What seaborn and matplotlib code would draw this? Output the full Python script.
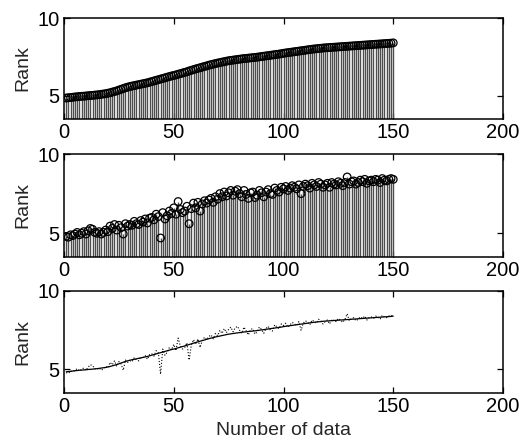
import numpy as np
import pandas as pd
import matplotlib
matplotlib.use("Agg")
import matplotlib.pyplot as plt
import seaborn as sns

x_index = list(range(1, 151))

smooth_rank = [
    4.85, 4.87, 4.88, 4.90, 4.92, 4.93, 4.95, 4.96, 4.97, 4.98,
    5.00, 5.01, 5.02, 5.04, 5.05, 5.07, 5.09, 5.11, 5.13, 5.16,
    5.19, 5.23, 5.27, 5.31, 5.36, 5.41, 5.46, 5.51, 5.55, 5.59,
    5.62, 5.65, 5.68, 5.71, 5.74, 5.77, 5.80, 5.83, 5.87, 5.91,
    5.95, 5.99, 6.03, 6.07, 6.11, 6.15, 6.19, 6.23, 6.27, 6.30,
    6.34, 6.38, 6.42, 6.46, 6.50, 6.54, 6.59, 6.63, 6.68, 6.72,
    6.76, 6.80, 6.84, 6.88, 6.92, 6.96, 7.00, 7.03, 7.07, 7.10,
    7.13, 7.16, 7.19, 7.22, 7.25, 7.27, 7.29, 7.31, 7.33, 7.35,
    7.37, 7.39, 7.40, 7.42, 7.43, 7.45, 7.46, 7.48, 7.50, 7.52,
    7.54, 7.56, 7.58, 7.60, 7.62, 7.64, 7.66, 7.68, 7.70, 7.73,
    7.75, 7.77, 7.79, 7.81, 7.83, 7.85, 7.87, 7.89, 7.91, 7.93,
    7.95, 7.97, 7.99, 8.01, 8.02, 8.04, 8.05, 8.07, 8.08, 8.09,
    8.10, 8.11, 8.12, 8.13, 8.14, 8.15, 8.16, 8.17, 8.18, 8.19,
    8.20, 8.21, 8.22, 8.23, 8.24, 8.25, 8.26, 8.27, 8.28, 8.29,
    8.30, 8.31, 8.32, 8.33, 8.34, 8.35, 8.36, 8.37, 8.38, 8.40,
]

raw_rank = [
    4.80, 4.75, 4.90, 4.85, 4.95, 5.05, 4.90, 5.00, 5.10, 4.95,
    5.15, 5.30, 5.25, 5.05, 5.00, 5.10, 4.95, 5.05, 5.20, 5.10,
    5.45, 5.30, 5.55, 5.20, 5.50, 5.35, 4.95, 5.60, 5.45, 5.55,
    5.50, 5.75, 5.60, 5.55, 5.80, 5.70, 5.90, 5.65, 5.95, 6.00,
    5.85, 6.20, 6.05, 4.70, 6.30, 5.90, 6.10, 6.40, 6.25, 6.60,
    6.20, 7.00, 6.50, 6.30, 6.40, 6.70, 5.60, 6.55, 6.90, 6.60,
    6.95, 6.40, 6.85, 7.05, 6.90, 7.10, 7.20, 6.95, 7.30, 7.15,
    7.50, 7.30, 7.60, 7.35, 7.55, 7.70, 7.40, 7.65, 7.75, 7.50,
    7.30, 7.70, 7.45, 7.20, 7.55, 7.60, 7.25, 7.40, 7.70, 7.55,
    7.30, 7.60, 7.75, 7.50, 7.45, 7.85, 7.70, 7.60, 7.90, 7.80,
    7.95, 7.70, 7.85, 8.00, 7.90, 7.80, 8.05, 7.50, 7.95, 8.10,
    8.00, 7.85, 8.15, 8.05, 7.95, 8.20, 8.10, 7.90, 8.05, 8.15,
    7.90, 8.20, 8.10, 8.05, 8.25, 8.15, 8.00, 8.20, 8.55, 8.10,
    8.25, 8.30, 8.10, 8.20, 8.35, 8.25, 8.40, 8.15, 8.30, 8.35,
    8.25, 8.40, 8.35, 8.20, 8.45, 8.35, 8.30, 8.40, 8.45, 8.40,
]

x_ticks = [0, 50, 100, 150, 200]
y_ticks = [5, 10]
y_label = "Rank"
x_label = "Number of data"

sns.set_style("ticks")
plt.rcParams['font.family'] = ['Liberation Sans', 'DejaVu Sans']

df = pd.DataFrame({"x": x_index, "smooth": smooth_rank, "raw": raw_rank})

fig = plt.figure(figsize=(5.22, 4.42), dpi=100)
W, H = 522, 442
L, R = 64, 503
boxes = [(18, 119), (154, 257), (291, 393)]
axes = []
for (t, b) in boxes:
    ax = fig.add_axes([L / W, 1 - b / H, (R - L) / W, (b - t) / H])
    axes.append(ax)

def style(ax):
    ax.set_xlim(0, 200)
    ax.set_ylim(3.5, 10)
    ax.set_xticks(x_ticks)
    ax.set_yticks(y_ticks)
    ax.tick_params(direction="in", length=4, width=0.9, top=True, right=True,
                   labelsize=14.5, pad=3, colors="black")
    for s in ax.spines.values():
        s.set_visible(True)
        s.set_color("black")
        s.set_linewidth(1.1)
    ax.set_ylabel(y_label, fontsize=14)
    ax.yaxis.set_label_coords(-0.075, 0.5)
    ax.set_xlabel("")

def stem(ax, col):
    ax.vlines(df["x"], 0, df[col], colors="0.3", linewidth=1.0, zorder=2)
    sns.scatterplot(data=df, x="x", y=col, ax=ax, marker="o", s=30,
                    facecolor="none", edgecolor="black", linewidth=0.9, zorder=3)

stem(axes[0], "smooth")
stem(axes[1], "raw")

sns.lineplot(data=df, x="x", y="smooth", ax=axes[2], color="black", linewidth=0.9)
sns.lineplot(data=df, x="x", y="raw", ax=axes[2], color="black", linewidth=0.8,
             linestyle=":")

for ax in axes:
    style(ax)

axes[2].set_xlabel(x_label, fontsize=14, labelpad=4)

fig.savefig("out.png", dpi=100)
